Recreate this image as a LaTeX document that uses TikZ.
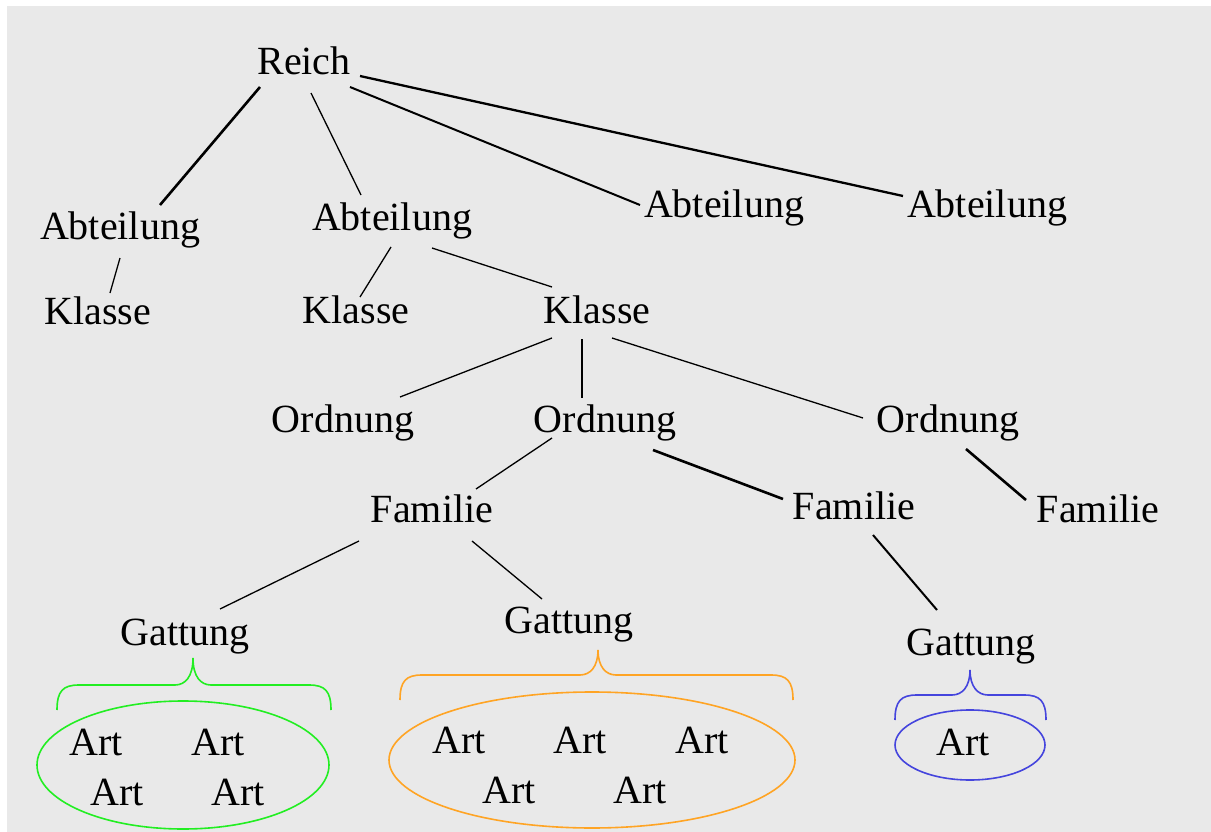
\documentclass[tikz,border=0pt]{standalone}
\usepackage{fontspec}
\setmainfont{Liberation Serif}
\definecolor{bggray}{HTML}{E9E9E9}
\definecolor{artgreen}{HTML}{22EE22}
\definecolor{artorange}{HTML}{FFA424}
\definecolor{artblue}{HTML}{4545DD}
\newcommand\mybrace[7]{%
  \draw[#1, line width=1.6pt] (#2,#7) .. controls (#2,{#6+6}) and ({#2+6},#6) .. ({#2+22},#6)
    -- ({#4-18},#6) .. controls ({#4-8},#6) and (#4,{#6-8}) .. (#4,#5)
    .. controls (#4,{#6-8}) and ({#4+8},#6) .. ({#4+18},#6)
    -- ({#3-22},#6) .. controls ({#3-6},#6) and (#3,{#6+6}) .. (#3,#7);}
\begin{document}
\begin{tikzpicture}[x=1pt,y=-1pt,
  lbl/.style={inner sep=0pt, anchor=base, font=\fontsize{40}{44}\selectfont},
  thinln/.style={line width=1.3pt},
  thickln/.style={line width=2.6pt}]
\useasboundingbox (0,0) rectangle (1211,832);
\fill[white] (0,0) rectangle (1211,832);
\fill[bggray] (7,6) rectangle (1211,832);
% nodes
\node[lbl] (reich) at (304,75) {Reich};
\node[lbl] (abt1) at (120,240) {Abteilung};
\node[lbl] (abt2) at (392,230) {Abteilung};
\node[lbl] (abt3) at (724,218) {Abteilung};
\node[lbl] (abt4) at (987,218) {Abteilung};
\node[lbl] (kl1) at (98,324) {Klasse};
\node[lbl] (kl2) at (356,323) {Klasse};
\node[lbl] (kl3) at (597,323) {Klasse};
\node[lbl] (ord1) at (343,432) {Ordnung};
\node[lbl] (ord2) at (605,432) {Ordnung};
\node[lbl] (ord3) at (948,432) {Ordnung};
\node[lbl] (fam1) at (432,522) {Familie};
\node[lbl] (fam2) at (854,519) {Familie};
\node[lbl] (fam3) at (1098,522) {Familie};
\node[lbl] (gat1) at (185,645) {Gattung};
\node[lbl] (gat2) at (569,633) {Gattung};
\node[lbl] (gat3) at (971,655) {Gattung};
% Art nodes
\node[lbl] (g1) at (96,755) {Art};
\node[lbl] (g2) at (218,755) {Art};
\node[lbl] (g3) at (117,805) {Art};
\node[lbl] (g4) at (238,805) {Art};
\node[lbl] (o1) at (459,753) {Art};
\node[lbl] (o2) at (580,753) {Art};
\node[lbl] (o3) at (702,753) {Art};
\node[lbl] (o4) at (509,803) {Art};
\node[lbl] (o5) at (640,803) {Art};
\node[lbl] (b1) at (963,755) {Art};
% connectors
\draw[thickln] ([shift={(-44,12)}]reich.base) -- ([shift={(40,-35)}]abt1.base);
\draw[thinln]  ([shift={(7,18)}]reich.base) -- ([shift={(-31,-35)}]abt2.base);
\draw[line width=2pt] ([shift={(46,12)}]reich.base) -- ([shift={(-84,-13)}]abt3.base);
\draw[line width=2.3pt] ([shift={(56,1)}]reich.base) -- ([shift={(-84,-22)}]abt4.base);
\draw[thinln] ([shift={(0,18)}]abt1.base) -- ([shift={(12,-31)}]kl1.base);
\draw[thinln] ([shift={(-1,17)}]abt2.base) -- ([shift={(4,-26)}]kl2.base);
\draw[thinln] ([shift={(40,18)}]abt2.base) -- ([shift={(-45,-36)}]kl3.base);
\draw[thinln] ([shift={(-45,15)}]kl3.base) -- ([shift={(57,-35)}]ord1.base);
\draw[thickln] ([shift={(-15,16)}]kl3.base) -- ([shift={(-23,-34)}]ord2.base);
\draw[thinln] ([shift={(15,15)}]kl3.base) -- ([shift={(-85,-14)}]ord3.base);
\draw[thinln] ([shift={(-53,6)}]ord2.base) -- ([shift={(44,-33)}]fam1.base);
\draw[thickln] ([shift={(48,18)}]ord2.base) -- ([shift={(-71,-20)}]fam2.base);
\draw[thickln] ([shift={(18,17)}]ord3.base) -- ([shift={(-72,-22)}]fam3.base);
\draw[thinln] ([shift={(-73,19)}]fam1.base) -- ([shift={(35,-36)}]gat1.base);
\draw[thinln] ([shift={(40,19)}]fam1.base) -- ([shift={(-27,-34)}]gat2.base);
\draw[line width=2pt] ([shift={(19,16)}]fam2.base) -- ([shift={(-34,-45)}]gat3.base);
% braces and ellipses
\mybrace{artgreen}{57}{331}{193}{658}{685}{710}
\draw[artgreen, line width=1.6pt] (183,765) ellipse [x radius=146, y radius=64];
\mybrace{artorange}{400}{793}{598}{650}{675}{700}
\draw[artorange, line width=1.6pt] (592,760) ellipse [x radius=203, y radius=68];
\mybrace{artblue}{895}{1046}{970}{670}{695}{720}
\draw[artblue, line width=1.6pt] (970,745) ellipse [x radius=75, y radius=35];
\end{tikzpicture}
\end{document}
